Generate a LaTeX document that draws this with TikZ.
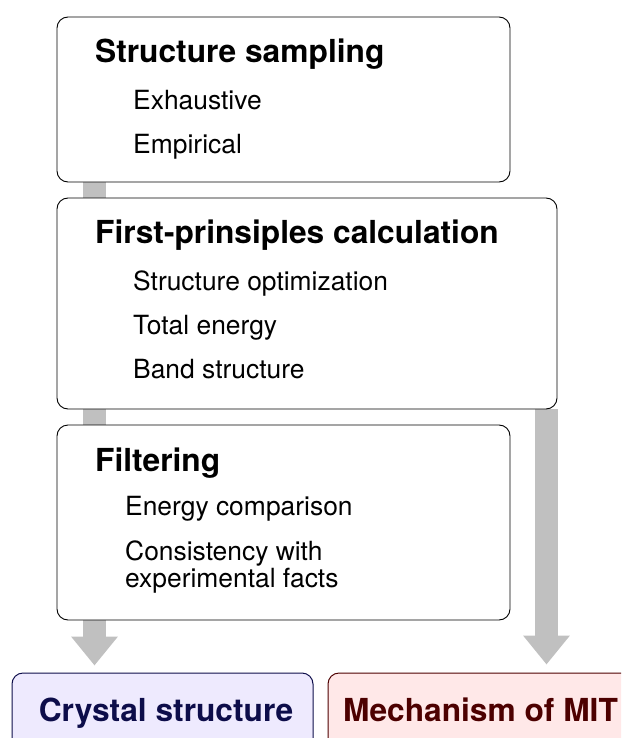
\documentclass[tikz,border=0pt]{standalone}
\usepackage{fontspec}
\setmainfont{TeX Gyre Heros}
\usetikzlibrary{arrows.meta,backgrounds}
\definecolor{arrowgray}{HTML}{C0C0C0}
\definecolor{crysfill}{HTML}{EEEAFE}
\definecolor{crysline}{HTML}{0D0D4A}
\definecolor{mechfill}{HTML}{FFE8E8}
\definecolor{mechline}{HTML}{4D0000}
\tikzset{
  panel/.style={draw=black, line width=0.9pt, rounded corners=11pt, fill=white, inner sep=0pt},
  result/.style={line width=1pt, rounded corners=11pt, inner sep=0pt},
  ttl/.style={anchor=base west, inner sep=0pt, font=\fontsize{31.7}{38}\selectfont\bfseries},
  itm/.style={anchor=base west, inner sep=0pt, font=\fontsize{26.4}{30}\selectfont},
  restxt/.style={anchor=base, inner sep=0pt, font=\fontsize{31.7}{38}\selectfont\bfseries},
  flow/.style={draw=arrowgray, line width=23pt, -{Triangle[width=45pt,length=29pt]}},
}
\begin{document}
\begin{tikzpicture}[x=1pt,y=-1pt]
\useasboundingbox (0,0) rectangle (621,738);
\clip (0,0) rectangle (621,738);
% boxes
\node[panel, minimum width=453pt, minimum height=165pt] (b1) at (283.5,99.5) {};
\node[panel, minimum width=500pt, minimum height=211pt] (b2) at (307,303.5) {};
\node[panel, minimum width=453pt, minimum height=195pt] (b3) at (283.5,522.5) {};
\node[result, draw=crysline, fill=crysfill, minimum width=301pt, minimum height=96pt] (cr) at (162.5,721) {};
\node[result, draw=mechline, fill=mechfill, minimum width=305pt, minimum height=96pt] (me) at (480.5,721) {};
% texts
\node[ttl] (t1) at (95,63) {Structure sampling};
\node[itm] (t1a) at (133,110) {Exhaustive};
\node[itm] (t1b) at (133,154) {Empirical};
\node[ttl] (t2) at (95,243) {First-prinsiples calculation};
\node[itm] (t2a) at (133,290) {Structure optimization};
\node[itm] (t2b) at (133,334) {Total energy};
\node[itm] (t2c) at (133,378) {Band structure};
\node[ttl] (t3) at (95,471) {Filtering};
\node[itm] (t3a) at (125,515) {Energy comparison};
\node[itm] (t3b) at (125,560) {Consistency with};
\node[itm] (t3c) at (125,587) {experimental facts};
\node[restxt, text=crysline] (crt) at (166,721) {Crystal structure};
\node[restxt, text=mechline] (met) at (480.5,721) {Mechanism of MIT};
% arrows
\begin{scope}[on background layer]
\coordinate (la) at (94.5,0);
\coordinate (ra) at (546.5,0);
\draw[flow] (b1.south -| la) -- ([yshift=7pt]cr.north -| la);
\draw[flow] (b2.south -| ra) -- ([yshift=8pt]me.north -| ra);
\end{scope}
\end{tikzpicture}
\end{document}
